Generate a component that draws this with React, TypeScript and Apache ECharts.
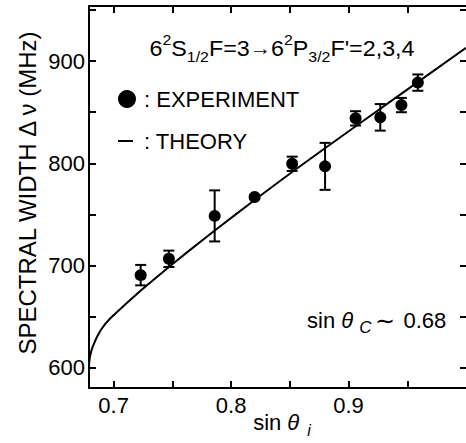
import React, { useEffect, useRef } from "react";
import * as echarts from "echarts";

// ---- data ----
const sinThetaI = [0.723, 0.747, 0.786, 0.82, 0.852, 0.88, 0.906, 0.927, 0.945, 0.959];
const spectralWidth = [690.5, 706.5, 748.5, 767, 799.5, 797, 844, 845, 857, 879];
const errorHalf = [10, 8, 25, 2, 7, 23, 7, 13, 7, 8];

const theoryX = [0.679, 0.6792, 0.6796, 0.6802, 0.681, 0.6822, 0.684, 0.6862, 0.6892, 0.693, 0.697, 0.7006, 0.7119, 0.7231, 0.7345, 0.7486, 0.7627, 0.7847, 0.8023, 0.8206, 0.8362, 0.8531, 0.8814, 0.91, 0.94, 0.97, 1.0];
const theoryY = [600, 605, 609, 612.5, 616.5, 620.5, 625.5, 631, 637, 643, 648, 652, 664, 675.5, 686.5, 700, 713, 733, 748.5, 764.5, 778, 792.5, 816, 839.5, 864, 888.5, 913];

const xLabelValues = [0.7, 0.8, 0.9];
const xTickValues = [0.7, 0.75, 0.8, 0.85, 0.9, 0.95];
const yLabelValues = [600, 700, 800, 900];
const yTickValues = [600, 650, 700, 750, 800, 850, 900, 950];

const FONT = "'Liberation Sans', Arial, Helvetica, sans-serif";

export default function App() {
  const ref = useRef<HTMLDivElement>(null);

  useEffect(() => {
    if (!ref.current) return;
    const chart = echarts.init(ref.current, undefined, { renderer: "svg" });

    const scatterData = sinThetaI.map((x, i) => [x, spectralWidth[i]]);
    const errData = sinThetaI.map((x, i) => [x, spectralWidth[i] - errorHalf[i], spectralWidth[i] + errorHalf[i]]);
    const theoryData = theoryX.map((x, i) => [x, theoryY[i]]);

    const axisLine = { show: true, onZero: false, lineStyle: { color: "#000", width: 2 } };
    const tickStyle = { color: "#000", width: 2 };

    const option: any = {
      animation: false,
      backgroundColor: "#fff",
      grid: { left: 89, top: 6, width: 379, height: 382, containLabel: false },
      xAxis: [
        {
          type: "value",
          min: 0.679,
          max: 1.0,
          position: "bottom",
          axisLine,
          splitLine: { show: false },
          axisTick: { show: true, inside: true, length: 7, customValues: xTickValues, lineStyle: tickStyle },
          axisLabel: {
            show: true,
            customValues: xLabelValues,
            formatter: (v: number) => v.toFixed(1),
            fontSize: 22,
            fontFamily: FONT,
            color: "#000",
            margin: 6,
          },
        },
        {
          type: "value",
          min: 0.679,
          max: 1.0,
          position: "top",
          axisLine,
          splitLine: { show: false },
          axisTick: { show: true, inside: true, length: 7, customValues: xTickValues, lineStyle: tickStyle },
          axisLabel: { show: false },
        },
      ],
      yAxis: [
        {
          type: "value",
          min: 580,
          max: 954,
          position: "left",
          axisLine,
          splitLine: { show: false },
          axisTick: { show: true, inside: true, length: 7, customValues: yTickValues, lineStyle: tickStyle },
          axisLabel: {
            show: true,
            customValues: yLabelValues,
            fontSize: 22,
            fontFamily: FONT,
            color: "#000",
            margin: 4,
          },
        },
        {
          type: "value",
          min: 580,
          max: 954,
          position: "right",
          axisLine: { show: false },
          splitLine: { show: false },
          axisTick: { show: true, inside: true, length: 6, customValues: yTickValues, lineStyle: tickStyle },
          axisLabel: { show: false },
        },
      ],
      series: [
        {
          type: "line",
          data: theoryData,
          showSymbol: false,
          smooth: false,
          lineStyle: { color: "#000", width: 2, join: "round" },
          silent: true,
          z: 2,
        },
        {
          type: "custom",
          data: errData,
          encode: { x: 0, y: [1, 2] },
          renderItem: (params: any, api: any) => {
            const x = api.value(0);
            const lo = api.coord([x, api.value(1)]);
            const hi = api.coord([x, api.value(2)]);
            const hw = 5.5;
            const st = { stroke: "#000", lineWidth: 2 };
            return {
              type: "group",
              children: [
                { type: "line", shape: { x1: lo[0], y1: lo[1], x2: hi[0], y2: hi[1] }, style: st },
                { type: "line", shape: { x1: lo[0] - hw, y1: lo[1], x2: lo[0] + hw, y2: lo[1] }, style: st },
                { type: "line", shape: { x1: hi[0] - hw, y1: hi[1], x2: hi[0] + hw, y2: hi[1] }, style: st },
              ],
            };
          },
          z: 3,
        },
        {
          type: "scatter",
          data: scatterData,
          symbol: "circle",
          symbolSize: 12,
          itemStyle: { color: "#000", opacity: 1 },
          z: 4,
        },
      ],
      graphic: [
        {
          type: "text",
          x: 282,
          y: 48,
          scaleX: 1.06,
          style: {
            text: "{m|6}{p|2}{m|S}{b|1/2}{m|F=3}{a|→}{m|6}{p|2}{m|P}{b|3/2}{m|F'=2,3,4}",
            align: "center",
            verticalAlign: "middle",
            textAlign: "center",
            textVerticalAlign: "middle",
            fill: "#000",
            rich: {
              m: { fontSize: 22, lineHeight: 32, verticalAlign: "middle", fontFamily: FONT, fill: "#000" },
              p: { fontSize: 15, lineHeight: 15, verticalAlign: "top", fontFamily: FONT, fill: "#000" },
              b: { fontSize: 15, lineHeight: 15, verticalAlign: "bottom", fontFamily: FONT, fill: "#000" },
              a: { fontSize: 20, lineHeight: 32, verticalAlign: "middle", fontFamily: FONT, fill: "#000" },
            },
          },
        },
        { type: "circle", shape: { cx: 127, cy: 99, r: 9 }, style: { fill: "#000" } },
        {
          type: "text",
          x: 144,
          y: 99,
          style: { text: ": EXPERIMENT", fontSize: 22, fontFamily: FONT, fill: "#000", align: "left", verticalAlign: "middle", textAlign: "left", textVerticalAlign: "middle" },
        },
        { type: "line", shape: { x1: 118, y1: 141, x2: 133, y2: 141 }, style: { stroke: "#000", lineWidth: 2 } },
        {
          type: "text",
          x: 144,
          y: 141,
          style: { text: ": THEORY", fontSize: 22, fontFamily: FONT, fill: "#000", align: "left", verticalAlign: "middle", textAlign: "left", textVerticalAlign: "middle" },
        },
        {
          type: "text",
          x: 307,
          y: 320,
          style: {
            text: "{n|sin }{t|θ}{s|C}{w|∼}{n|0.68}",
            align: "left",
            verticalAlign: "middle",
            textAlign: "left",
            textVerticalAlign: "middle",
            fill: "#000",
            rich: {
              n: { fontSize: 22, lineHeight: 32, verticalAlign: "middle", fontFamily: FONT, fill: "#000" },
              t: { fontSize: 22, lineHeight: 32, verticalAlign: "middle", fontFamily: FONT, fontStyle: "italic", fill: "#000", padding: [0, 6, 0, 0] },
              s: { fontSize: 17, lineHeight: 17, verticalAlign: "bottom", fontFamily: FONT, fontStyle: "italic", fill: "#000" },
              w: { fontSize: 24, lineHeight: 32, verticalAlign: "middle", fontFamily: FONT, fill: "#000", padding: [0, 8, 0, 4] },
            },
          },
        },
        {
          type: "text",
          x: 282,
          y: 422,
          style: {
            text: "{n|sin }{t|θ}{s|i}",
            align: "center",
            verticalAlign: "middle",
            textAlign: "center",
            textVerticalAlign: "middle",
            fill: "#000",
            rich: {
              n: { fontSize: 22, lineHeight: 32, verticalAlign: "middle", fontFamily: FONT, fill: "#000" },
              t: { fontSize: 22, lineHeight: 32, verticalAlign: "middle", fontFamily: FONT, fontStyle: "italic", fill: "#000", padding: [0, 8, 0, 0] },
              s: { fontSize: 16, lineHeight: 16, verticalAlign: "bottom", fontFamily: FONT, fontStyle: "italic", fill: "#000" },
            },
          },
        },
        {
          type: "text",
          x: 27,
          y: 193,
          rotation: Math.PI / 2,
          style: {
            text: "SPECTRAL WIDTH Δ ν (MHz)",
            fontSize: 24,
            fontFamily: FONT,
            fill: "#000",
            align: "center",
            verticalAlign: "middle",
            textAlign: "center",
            textVerticalAlign: "middle",
          },
        },
      ],
    };

    chart.setOption(option);
    return () => chart.dispose();
  }, []);

  return (
    <div
      ref={ref}
      style={{ position: "fixed", left: 0, top: 0, width: 466, height: 443, background: "#fff" }}
    />
  );
}
